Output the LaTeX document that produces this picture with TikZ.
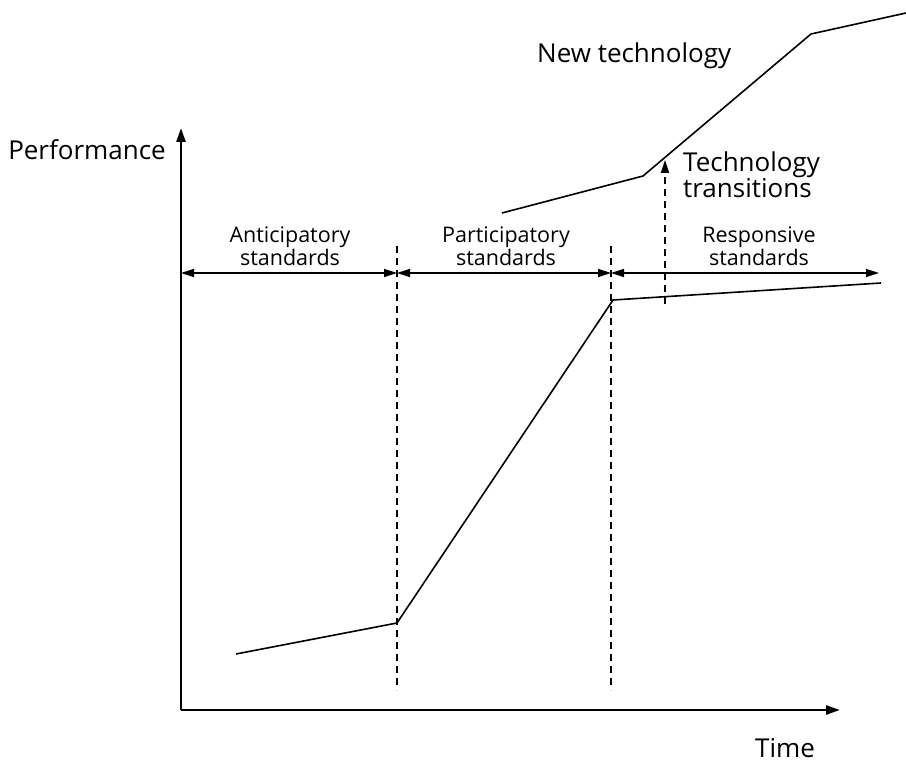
\documentclass[tikz,border=0pt]{standalone}
\usepackage{fontspec}
\setmainfont{Open Sans}
\usetikzlibrary{arrows.meta}
\colorlet{curveblack}{black}

\begin{document}
\begin{tikzpicture}[x=1pt,y=-1pt,
    axis/.style={line width=2.6pt,-{Triangle[length=14pt,width=9pt]}},
    curve/.style={curveblack,line width=1.6pt,line join=round},
    span/.style={line width=1.2pt,{Triangle[length=13pt,width=8pt]}-{Triangle[length=13pt,width=8pt]}},
    divider/.style={line width=2.3pt,dash pattern=on 7pt off 5pt},
    biglabel/.style={font=\fontsize{26}{26}\selectfont,inner sep=0pt},
    spanlabel/.style={font=\fontsize{21.5}{20}\selectfont,align=center,inner sep=0pt}]
    \useasboundingbox (0,0) rectangle (906,762);
    % axes
    \coordinate (origin) at (181,710);
    \coordinate (ytop) at (181,128);
    \coordinate (xend) at (840,710);
    \draw[axis] (origin) -- (ytop);
    \draw[axis] (origin) -- (xend);
    \node[biglabel,anchor=base east] (perf) at (166,160) {Performance};
    \node[biglabel,anchor=base west] (time) at (755,757) {Time};
    % phase boundaries
    \foreach \x/\n in {397/a,611/b}{
        \coordinate (top\n) at (\x,246);
        \coordinate (bot\n) at (\x,690);
        \draw[divider] (top\n) -- (bot\n);
    }
    % phase spans
    \coordinate (s0) at (181,273);
    \coordinate (s1) at (397,273);
    \coordinate (s2) at (611,273);
    \coordinate (s3) at (879,273);
    \draw[span] (s0) -- (s1);
    \draw[span] (s1) -- (s2);
    \draw[span] (s2) -- (s3);
    \foreach \x/\n/\t/\b in {290/ant/Anticipatory/standards,
                             506/par/Participatory/standards,
                             759/res/Responsive/standards}{
        \node[spanlabel,anchor=base] (\n) at (\x,243) {\t};
        \node[spanlabel,anchor=base] (\n2) at (\x,266) {\b};
    }
    % current technology
    \coordinate (c1) at (236,654);
    \coordinate (c2) at (397,623);
    \coordinate (c3) at (613,300);
    \coordinate (c4) at (881,283);
    \draw[curve] (c1) -- (c2) -- (c3) -- (c4);
    % new technology
    \coordinate (n1) at (502,213);
    \coordinate (n2) at (643,176);
    \coordinate (n3) at (811,34);
    \coordinate (n4) at (906,13);
    \draw[curve] (n1) -- (n2) -- (n3) -- (n4);
    \node[biglabel,anchor=base west] (newtech) at (537,63) {New technology};
    % transition
    \coordinate (jumpfrom) at (665,304);
    \coordinate (jumpto) at (665,160);
    \draw[divider,-{Triangle[length=13pt,width=8pt]},line width=1.8pt] (jumpfrom) -- (jumpto);
    \node[biglabel,anchor=base west,align=left] (trans) at (683,198) {Technology\\transitions};
\end{tikzpicture}
\end{document}
